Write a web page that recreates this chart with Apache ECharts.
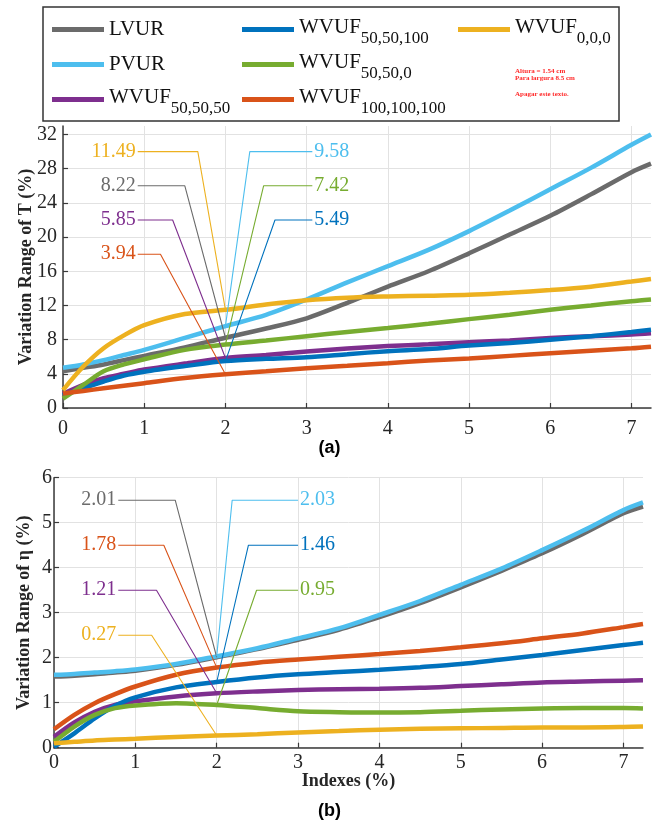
<!DOCTYPE html>
<html>
<head>
<meta charset="utf-8">
<script src="https://cdn.jsdelivr.net/npm/echarts@6/dist/echarts.min.js"></script>
<style>
  html, body { margin: 0; padding: 0; background: #ffffff; }
  #chart { width: 659px; height: 827px; }
</style>
</head>
<body>
<div id="chart"></div>
<script>
// Index values (%) on the shared horizontal axis
const indexes = [0, 0.25, 0.5, 0.75, 1, 1.5, 2, 2.5, 3, 3.5, 4, 4.5, 5, 5.5, 6, 6.5, 7, 7.24];

// Tick values
const xTicks = [0, 1, 2, 3, 4, 5, 6, 7];
const yTicksT = [0, 4, 8, 12, 16, 20, 24, 28, 32];
const yTicksEta = [0, 1, 2, 3, 4, 5, 6];

// (a) Variation range of T (%)
const tLVUR   = [4.3, 4.7, 5.1, 5.6, 6.1, 7.1, 8.22, 9.3, 10.5, 12.3, 14.2, 16.0, 18.1, 20.3, 22.5, 25.0, 27.6, 28.6];
const tPVUR   = [4.7, 5.1, 5.6, 6.2, 6.8, 8.2, 9.58, 10.9, 12.7, 14.7, 16.6, 18.5, 20.7, 23.1, 25.6, 28.1, 30.8, 32.0];
const tW505050  = [1.65, 2.7, 3.5, 4.0, 4.5, 5.2, 5.85, 6.2, 6.6, 6.95, 7.25, 7.45, 7.7, 7.9, 8.2, 8.4, 8.6, 8.75];
const tW5050100 = [1.5, 2.3, 3.1, 3.8, 4.25, 4.9, 5.49, 5.75, 5.95, 6.3, 6.65, 6.9, 7.3, 7.6, 8.0, 8.4, 8.9, 9.15];
const tW50500   = [1.1, 2.7, 4.3, 5.1, 5.7, 6.8, 7.42, 7.9, 8.4, 8.9, 9.35, 9.85, 10.4, 10.9, 11.5, 12.0, 12.5, 12.7];
const tW100     = [1.7, 2.0, 2.3, 2.6, 2.9, 3.5, 3.94, 4.3, 4.65, 4.95, 5.25, 5.55, 5.8, 6.1, 6.4, 6.7, 6.98, 7.17];
const tW000     = [2.1, 4.85, 7.0, 8.5, 9.7, 11.0, 11.49, 12.1, 12.6, 12.9, 13.05, 13.15, 13.25, 13.5, 13.8, 14.2, 14.8, 15.1];

// (b) Variation range of eta (%)
const eLVUR   = [1.58, 1.6, 1.63, 1.67, 1.71, 1.84, 2.01, 2.19, 2.4, 2.62, 2.9, 3.21, 3.56, 3.93, 4.32, 4.75, 5.21, 5.36];
const ePVUR   = [1.62, 1.64, 1.67, 1.7, 1.74, 1.86, 2.03, 2.21, 2.43, 2.65, 2.95, 3.26, 3.62, 3.98, 4.39, 4.82, 5.28, 5.45];
const eW505050  = [0.24, 0.56, 0.8, 0.95, 1.03, 1.14, 1.21, 1.25, 1.28, 1.3, 1.31, 1.33, 1.37, 1.41, 1.45, 1.47, 1.49, 1.5];
const eW5050100 = [0.02, 0.32, 0.65, 0.93, 1.12, 1.34, 1.46, 1.56, 1.63, 1.68, 1.73, 1.79, 1.86, 1.96, 2.06, 2.17, 2.28, 2.33];
const eW50500   = [0.13, 0.47, 0.73, 0.88, 0.94, 0.99, 0.95, 0.88, 0.81, 0.79, 0.78, 0.79, 0.82, 0.85, 0.87, 0.88, 0.88, 0.87];
const eW100     = [0.41, 0.73, 0.99, 1.19, 1.36, 1.62, 1.78, 1.89, 1.96, 2.02, 2.08, 2.15, 2.23, 2.32, 2.43, 2.54, 2.68, 2.75];
const eW000     = [0.1, 0.13, 0.16, 0.18, 0.2, 0.24, 0.27, 0.3, 0.34, 0.37, 0.4, 0.42, 0.43, 0.44, 0.45, 0.45, 0.46, 0.47];

// Series in drawing order
const curves = [
  { name: 'LVUR',             color: '#6b6b6b', t: tLVUR,     eta: eLVUR },
  { name: 'PVUR',             color: '#4dbeee', t: tPVUR,     eta: ePVUR },
  { name: 'WVUF 50,50,50',    color: '#7e2f8e', t: tW505050,  eta: eW505050 },
  { name: 'WVUF 50,50,100',   color: '#0072bd', t: tW5050100, eta: eW5050100 },
  { name: 'WVUF 50,50,0',     color: '#77ac30', t: tW50500,   eta: eW50500 },
  { name: 'WVUF 100,100,100', color: '#d95319', t: tW100,     eta: eW100 },
  { name: 'WVUF 0,0,0',       color: '#edb120', t: tW000,     eta: eW000 }
];

// Callouts point at the value of each curve at index = 2 %
const calloutAt = 2;
const calloutLayoutT = {
  anchorLeft: 0.92, anchorRight: 3.07,
  items: {
    'WVUF 0,0,0':       { side: 'left',  y: 30, bend: 1.66 },
    'LVUR':             { side: 'left',  y: 26, bend: 1.5 },
    'WVUF 50,50,50':    { side: 'left',  y: 22, bend: 1.35 },
    'WVUF 100,100,100': { side: 'left',  y: 18, bend: 1.2 },
    'PVUR':             { side: 'right', y: 30, bend: 2.3 },
    'WVUF 50,50,0':     { side: 'right', y: 26, bend: 2.47 },
    'WVUF 50,50,100':   { side: 'right', y: 22, bend: 2.61 }
  }
};
const calloutLayoutEta = {
  anchorLeft: 0.79, anchorRight: 3.0,
  items: {
    'LVUR':             { side: 'left',  y: 5.5, bend: 1.49 },
    'WVUF 100,100,100': { side: 'left',  y: 4.5, bend: 1.35 },
    'WVUF 50,50,50':    { side: 'left',  y: 3.5, bend: 1.26 },
    'WVUF 0,0,0':       { side: 'left',  y: 2.5, bend: 1.2 },
    'PVUR':             { side: 'right', y: 5.5, bend: 2.19 },
    'WVUF 50,50,100':   { side: 'right', y: 4.5, bend: 2.39 },
    'WVUF 50,50,0':     { side: 'right', y: 3.5, bend: 2.49 }
  }
};

const SERIF = "'Liberation Serif', 'Times New Roman', serif";
const SANS = "'Liberation Sans', Arial, sans-serif";
const AXIS_COLOR = '#3a3a3a';
const GRID_COLOR = '#e2e2e2';

function pairs(values) {
  return indexes.map((x, i) => [x, values[i]]);
}

function xAxisFor(gridIndex, labelMargin, name) {
  return {
    type: 'value', gridIndex, min: 0, max: 7.24,
    name: name || '', nameLocation: 'middle', nameGap: 25, nameMoveOverlap: false,
    nameTextStyle: { fontFamily: SERIF, fontWeight: 'bold', fontSize: 18, color: '#262626' },
    axisLine: { show: true, onZero: false, lineStyle: { color: AXIS_COLOR, width: 1.5 } },
    axisTick: { show: true, inside: true, length: 5, customValues: xTicks, lineStyle: { color: AXIS_COLOR, width: 1.2 } },
    axisLabel: { customValues: xTicks, margin: labelMargin, fontFamily: SERIF, fontSize: 20, color: '#262626' },
    splitLine: { show: true, lineStyle: { color: GRID_COLOR, width: 1 } }
  };
}

function yAxisFor(gridIndex, max, ticks, name, nameGap, labelMargin) {
  return {
    type: 'value', gridIndex, min: 0, max,
    name, nameLocation: 'middle', nameRotate: 90, nameGap, nameMoveOverlap: false,
    nameTextStyle: { fontFamily: SERIF, fontWeight: 'bold', fontSize: 18, color: '#262626' },
    axisLine: { show: true, onZero: false, lineStyle: { color: AXIS_COLOR, width: 1.5 } },
    axisTick: { show: true, inside: true, length: 5, customValues: ticks, lineStyle: { color: AXIS_COLOR, width: 1.2 } },
    axisLabel: { customValues: ticks, margin: labelMargin, fontFamily: SERIF, fontSize: 20, color: '#262626' },
    splitLine: { show: true, lineStyle: { color: GRID_COLOR, width: 1 } }
  };
}

const series = [];
curves.forEach(c => {
  series.push({
    name: c.name, type: 'line', xAxisIndex: 0, yAxisIndex: 0,
    data: pairs(c.t), smooth: 0.3,
    showSymbol: false, symbol: 'none', color: c.color,
    lineStyle: { color: c.color, width: 4.5 }, z: 2,
    emphasis: { disabled: true }
  });
  series.push({
    name: c.name, type: 'line', xAxisIndex: 1, yAxisIndex: 1,
    data: pairs(c.eta), smooth: 0.3,
    showSymbol: false, symbol: 'none', color: c.color,
    lineStyle: { color: c.color, width: 4.5 }, z: 2,
    emphasis: { disabled: true }
  });
});

function addCallouts(layout, key, axisIndex) {
  const at = indexes.indexOf(calloutAt);
  curves.forEach(c => {
    const item = layout.items[c.name];
    const v = c[key][at];
    const left = item.side === 'left';
    const anchorX = left ? layout.anchorLeft : layout.anchorRight;
    series.push({
      type: 'line', xAxisIndex: axisIndex, yAxisIndex: axisIndex,
      data: [
        {
          value: [anchorX, item.y],
          label: {
            show: true, position: left ? 'left' : 'right', distance: 2,
            formatter: v.toFixed(2), fontFamily: SERIF, fontSize: 20, color: c.color
          }
        },
        [item.bend, item.y],
        [calloutAt, v]
      ],
      symbol: 'circle', symbolSize: 0.01, showSymbol: true,
      itemStyle: { color: c.color },
      lineStyle: { color: c.color, width: 1.1 },
      z: 5, silent: true, emphasis: { disabled: true }
    });
  });
}
addCallouts(calloutLayoutT, 't', 0);
addCallouts(calloutLayoutEta, 'eta', 1);

// Legend: one component per entry so the 3-column arrangement is explicit
const legendSlots = [
  { name: 'LVUR',             left: 52,  row: 29 },
  { name: 'PVUR',             left: 52,  row: 64 },
  { name: 'WVUF 50,50,50',    left: 52,  row: 99 },
  { name: 'WVUF 50,50,100',   left: 242, row: 29 },
  { name: 'WVUF 50,50,0',     left: 242, row: 64 },
  { name: 'WVUF 100,100,100', left: 242, row: 99 },
  { name: 'WVUF 0,0,0',       left: 458, row: 29 }
];
const legends = legendSlots.map(s => {
  const sub = s.name.indexOf(' ') > 0;
  return {
    data: [s.name], left: s.left, top: s.row - (sub ? 12 : 10),
    padding: 0, itemWidth: 52, itemHeight: 5, icon: 'rect',
    selectedMode: false,
    formatter: name => {
      const parts = name.split(' ');
      return parts.length > 1 ? '{m|' + parts[0] + '}{s|' + parts[1] + '}' : name;
    },
    textStyle: {
      fontFamily: SERIF, fontSize: 21, color: '#111',
      rich: {
        m: { fontFamily: SERIF, fontSize: 21, color: '#111', padding: [0, 0, 4, 0] },
        s: { fontFamily: SERIF, fontSize: 17, color: '#111', padding: [19, 0, 0, 0] }
      }
    }
  };
});

const chart = echarts.init(document.getElementById('chart'), null, { renderer: 'canvas' });
chart.setOption({
  backgroundColor: '#ffffff',
  animation: false,
  title: [
    { text: '(a)', left: 'center', top: 434, textStyle: { fontFamily: SANS, fontWeight: 'bold', fontSize: 18, color: '#000' } },
    { text: '(b)', left: 'center', top: 797, textStyle: { fontFamily: SANS, fontWeight: 'bold', fontSize: 18, color: '#000' } }
  ],
  legend: legends,
  grid: [
    { left: 63, right: 8, top: 126, height: 282 },
    { left: 54, right: 16, top: 477.7, height: 270 }
  ],
  xAxis: [xAxisFor(0, 11, ''), xAxisFor(1, 5, 'Indexes (%)')],
  yAxis: [
    yAxisFor(0, 33, yTicksT, 'Variation Range of T (%)', 28, 6),
    yAxisFor(1, 6, yTicksEta, 'Variation Range of η (%)', 21, 2)
  ],
  graphic: [
    { type: 'rect', z: -1, shape: { x: 43, y: 7, width: 576, height: 114 },
      style: { fill: '#ffffff', stroke: '#333333', lineWidth: 1.5 } },
    { type: 'text', x: 515, y: 71, style: { text: 'Altura = 1.54 cm', fontFamily: SERIF, fontWeight: 'bold', fontSize: 7, fill: '#ff2a2a', verticalAlign: 'middle' } },
    { type: 'text', x: 515, y: 78, style: { text: 'Para largura 8.5 cm', fontFamily: SERIF, fontWeight: 'bold', fontSize: 7, fill: '#ff2a2a', verticalAlign: 'middle' } },
    { type: 'text', x: 515, y: 94, style: { text: 'Apagar este texto.', fontFamily: SERIF, fontWeight: 'bold', fontSize: 7, fill: '#ff2a2a', verticalAlign: 'middle' } }
  ],
  series
});
</script>
</body>
</html>
